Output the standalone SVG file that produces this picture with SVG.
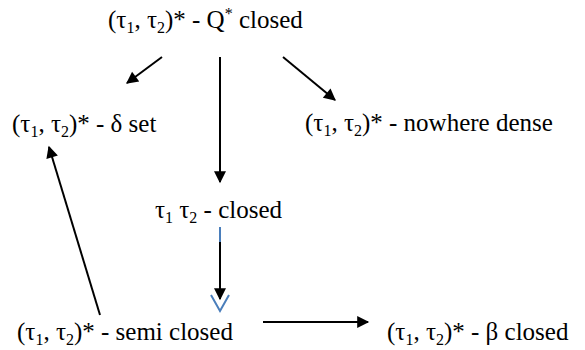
<svg xmlns="http://www.w3.org/2000/svg" width="585" height="350" viewBox="0 0 585 350">
<style>
text{font-family:'Liberation Serif','Times New Roman',serif;font-size:25px;fill:#000}
.sub{font-size:16px}
.ln{stroke:#000;stroke-width:2;fill:none}
.bl{stroke:#4a7ebb;stroke-width:2;fill:none}
</style>
<defs>
<marker id="ah" viewBox="0 0 10 10" refX="9" refY="5" markerWidth="7.5" markerHeight="6" orient="auto" markerUnits="strokeWidth"><path d="M0,0L10,5L0,10z" fill="#000"/></marker>
</defs>
<rect width="585" height="350" fill="#fff"/>
<g id="n-q"><text x="108" y="28">(τ<tspan class="sub" dy="5">1</tspan><tspan dy="-5">, τ</tspan><tspan class="sub" dy="5">2</tspan><tspan dy="-5">)* - Q</tspan><tspan class="sub" dy="-9">*</tspan><tspan dy="9"> closed</tspan></text></g>
<g id="n-delta"><text x="12" y="132">(τ<tspan class="sub" dy="5">1</tspan><tspan dy="-5">, τ</tspan><tspan class="sub" dy="5">2</tspan><tspan dy="-5">)* - δ set</tspan></text></g>
<g id="n-nd"><text x="305" y="131">(τ<tspan class="sub" dy="5">1</tspan><tspan dy="-5">, τ</tspan><tspan class="sub" dy="5">2</tspan><tspan dy="-5">)* - nowhere dense</tspan></text></g>
<g id="n-t"><text x="155" y="218">τ<tspan class="sub" dy="5">1</tspan><tspan dy="-5"> τ</tspan><tspan class="sub" dy="5">2</tspan><tspan dy="-5"> - closed</tspan></text></g>
<g id="n-semi"><text x="17" y="340">(τ<tspan class="sub" dy="5">1</tspan><tspan dy="-5">, τ</tspan><tspan class="sub" dy="5">2</tspan><tspan dy="-5">)* - semi closed</tspan></text></g>
<g id="n-beta"><text x="387" y="340">(τ<tspan class="sub" dy="5">1</tspan><tspan dy="-5">, τ</tspan><tspan class="sub" dy="5">2</tspan><tspan dy="-5">)* - β closed</tspan></text></g>
<g id="connectors">
<line class="ln" x1="162" y1="57" x2="127" y2="83" marker-end="url(#ah)"/>
<line class="ln" x1="220" y1="57" x2="220" y2="182" marker-end="url(#ah)"/>
<line class="ln" x1="283" y1="57" x2="335" y2="100" marker-end="url(#ah)"/>
<line class="bl" x1="220" y1="227" x2="220" y2="242"/>
<line class="ln" x1="220" y1="242" x2="220" y2="299" marker-end="url(#ah)"/>
<path class="bl" d="M211,295L220,311L229,295"/>
<line class="ln" x1="100" y1="315" x2="49" y2="147" marker-end="url(#ah)"/>
<line class="ln" x1="263" y1="322" x2="368" y2="322" marker-end="url(#ah)"/>
</g>
</svg>
